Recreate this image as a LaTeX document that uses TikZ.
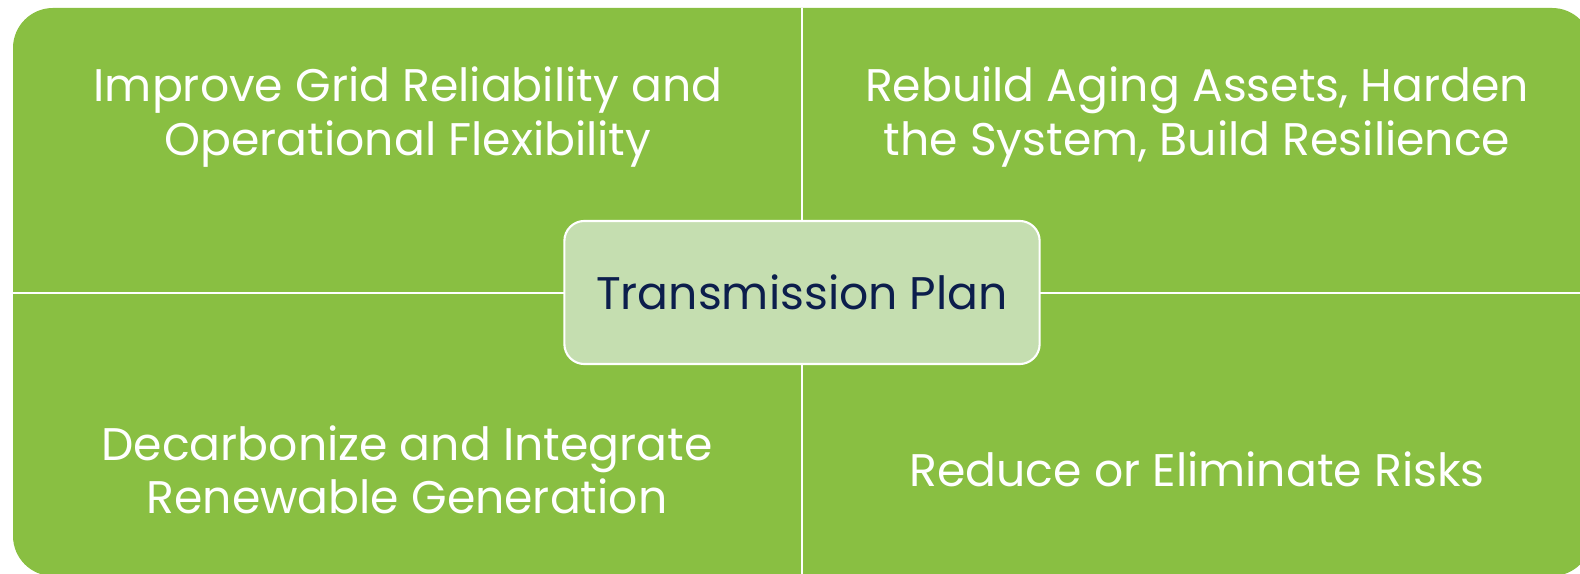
\documentclass[tikz,border=0pt]{standalone}
\usepackage{fontspec}
\setmainfont{Poppins}
\definecolor{quadgreen}{RGB}{137,191,66}
\definecolor{planfill}{RGB}{197,222,176}
\definecolor{plannavy}{RGB}{12,30,76}
\tikzset{
  goal/.style={text=white, align=center, font=\fontsize{13}{15.2}\selectfont},
  plan/.style={draw=white, line width=0.6pt, fill=planfill, rounded corners=0.2cm,
    minimum width=4.75cm, minimum height=1.43cm, text=plannavy, font=\fontsize{13}{15}\selectfont},
  divider/.style={draw=white, line width=0.6pt}
}
\begin{document}
\begin{tikzpicture}[x=0.01cm,y=-0.01cm]
        \clip (0,0) rectangle (1580,574);
        % Outer matrix
        \fill[quadgreen, rounded corners=0.4cm] (13,8) rectangle (1592,576);
        
        % Dividers
        \coordinate (top) at (802,8);
        \coordinate (bottom) at (802,576);
        \coordinate (left) at (13,293);
        \coordinate (right) at (1592,293);
        \draw[divider] (top) -- (bottom);
        \draw[divider] (left) -- (right);
        
        % Quadrants
        \node[goal] (reliability) at (408,117) {Improve Grid Reliability and\\Operational Flexibility};
        \node[goal] (resilience) at (1197,117) {Rebuild Aging Assets, Harden\\the System, Build Resilience};
        \node[goal] (renewables) at (407,470) {Decarbonize and Integrate\\Renewable Generation};
        \node[goal] (risks) at (1197,469) {Reduce or Eliminate Risks};
        
        % Center
        \node[plan] (transmission) at (802,292.5) {Transmission Plan};
    \end{tikzpicture}
\end{document}
